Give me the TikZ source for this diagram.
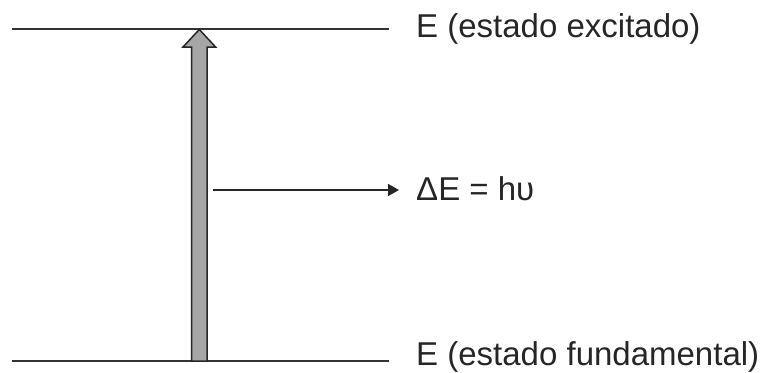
\documentclass[tikz,border=0pt]{standalone}
\usepackage{fontspec}
\setmainfont{Liberation Sans}
\usetikzlibrary{arrows.meta}
\begin{document}
\begin{tikzpicture}[x=1pt,y=-1pt,
  level/.style={draw=black!80,line width=1.6pt},
  lbl/.style={anchor=west,inner sep=0pt,font=\fontsize{33}{39}\selectfont,text=black!85},
  bigarrow/.style={draw=black!85,fill=black!35,line width=1.5pt,line join=miter},
  thin/.style={draw=black!85,line width=1.5pt,-{Triangle[length=11pt,width=12pt]}}]
\useasboundingbox (0,0) rectangle (762,372);
\coordinate (t1) at (12,29);
\coordinate (t2) at (389,29);
\coordinate (b1) at (12,361);
\coordinate (b2) at (389,361);
\draw[level] (t1) -- (t2);
\draw[level] (b1) -- (b2);
\draw[bigarrow] (191.5,361) -- (191.5,47) -- (183,47) -- (199.3,29.5) -- (215.6,47) -- (207,47) -- (207,361) -- cycle;
\coordinate (h1) at (213,190);
\coordinate (h2) at (399,190);
\draw[thin] (h1) -- (h2);
\node[lbl] (top) at (416,29) {E (estado excitado)};
\node[lbl] (mid) at (416,189) {ΔE = hυ};
\node[lbl] (bot) at (416,357) {E (estado fundamental)};
\end{tikzpicture}
\end{document}
